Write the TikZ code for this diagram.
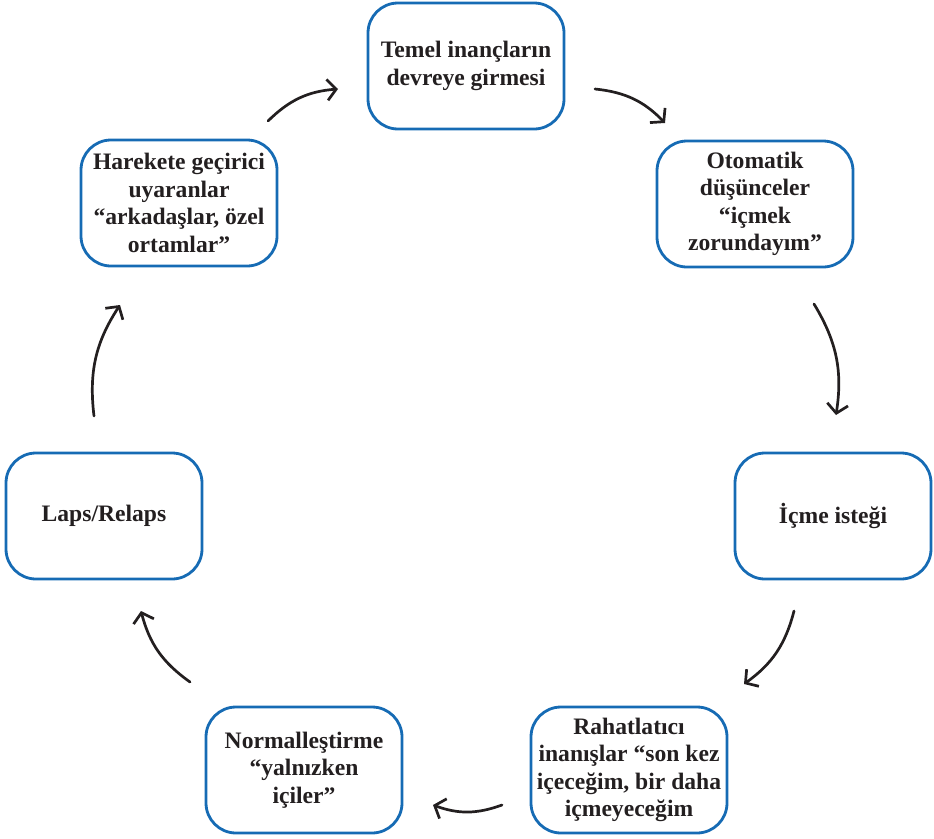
\documentclass[tikz,border=0pt]{standalone}
\usepackage{fontspec}
\setmainfont{Liberation Serif}
\usetikzlibrary{arrows.meta}
\definecolor{boxblue}{RGB}{22,107,180}
\definecolor{ink}{RGB}{35,31,32}
\begin{document}
\begin{tikzpicture}[x=1pt,y=-1pt,
  stage/.style={draw=boxblue, line width=2.8pt, rounded corners=30pt,
    minimum width=196pt, minimum height=126pt, align=center, inner sep=0pt,
    text=ink, font=\fontsize{23.6}{27.5}\selectfont\bfseries},
  flow/.style={draw=ink, line width=2.7pt, line cap=round,
    -{Straight Barb[length=9pt,width=21pt]}, bend left=20}
]
\useasboundingbox (0,0) rectangle (934,838);

% the seven stages of the cycle
\node[stage] (temel) at (466,66) {Temel inançların\\devreye girmesi};
\node[stage] (oto)   at (755,204) {Otomatik\\düşünceler\\“içmek\\zorundayım”};
\node[stage] (istek) at (833,516) {İçme isteği};
\node[stage] (rahat) at (629,770) {Rahatlatıcı\\inanışlar “son kez\\içeceğim, bir daha\\içmeyeceğim};
\node[stage] (norm)  at (304,770) {Normalleştirme\\“yalnızken\\içiler”};
\node[stage] (laps)  at (104,516) {Laps/Relaps};
\node[stage] (hare)  at (179,203) {Harekete geçirici\\uyaranlar\\“arkadaşlar, özel\\ortamlar”};

% free ends of the curved arrows between stages
\coordinate (a1s) at (268,121); \coordinate (a1e) at (338,89);
\coordinate (a2s) at (595,89);  \coordinate (a2e) at (665,123);
\coordinate (a3s) at (814,304); \coordinate (a3e) at (836,415);
\coordinate (a4s) at (794,611); \coordinate (a4e) at (744,684);
\coordinate (a5s) at (502,805); \coordinate (a5e) at (433,805);
\coordinate (a6s) at (190,682); \coordinate (a6e) at (141,611);
\coordinate (a7s) at (94,416);  \coordinate (a7e) at (120,305);

\draw[flow] (a1s) to (a1e);
\draw[flow] (a2s) to (a2e);
\draw[flow] (a3s) to (a3e);
\draw[flow] (a4s) to (a4e);
\draw[flow] (a5s) to (a5e);
\draw[flow] (a6s) to (a6e);
\draw[flow] (a7s) to (a7e);
\end{tikzpicture}
\end{document}
